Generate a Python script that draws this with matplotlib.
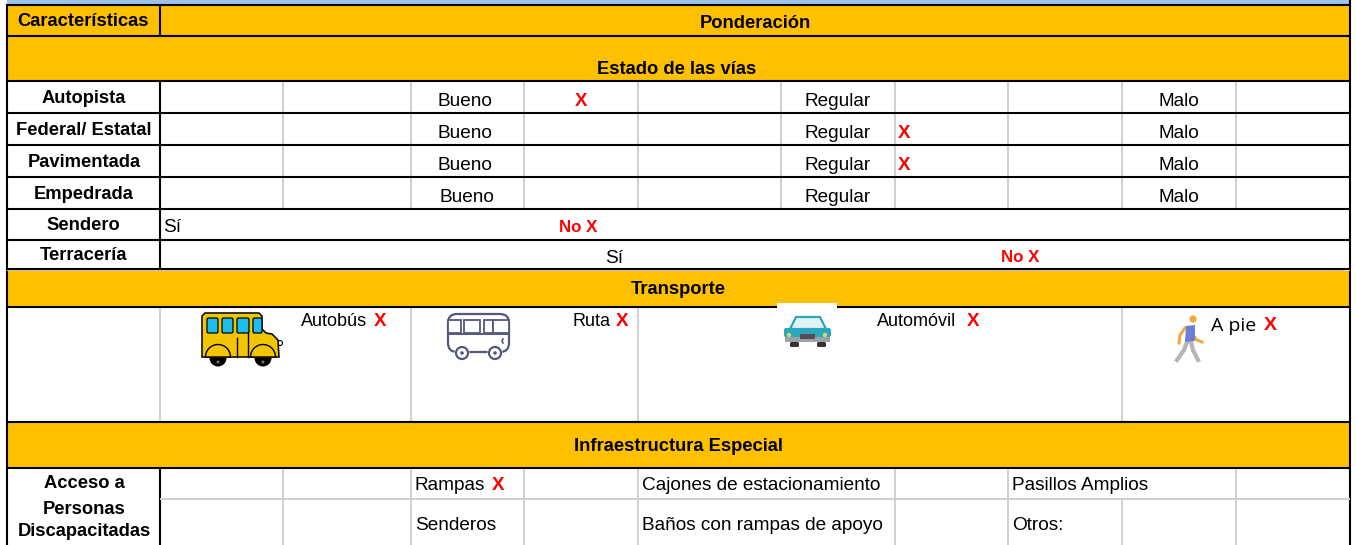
#!/usr/bin/env python
"""Tabla de caracteristicas de las vias, transporte e infraestructura."""

import matplotlib
matplotlib.use("Agg")
import matplotlib.pyplot as plt
from matplotlib.patches import Rectangle, FancyBboxPatch, Circle, Wedge, Polygon

plt.rcParams['font.family'] = ['Liberation Sans', 'DejaVu Sans']

ORANGE = '#FFC000'
GRID = '#D0D0D0'
RED = '#FF0000'
BOLD_SIZE = 13.2
TEXT_SIZE = 13.7
MARK_SIZE = 13.5
NO_SIZE = 12.2

via_rows = ['Autopista', 'Federal/ Estatal', 'Pavimentada', 'Empedrada']
via_marks = ['Bueno', 'Regular', 'Regular', None]
section_titles = ['Ponderación', 'Estado de las vías', 'Transporte', 'Infraestructura Especial']
acceso_lines = ['Acceso a', 'Personas', 'Discapacitadas']
transport_labels = ['Autobús', 'Ruta', 'Automóvil', 'A pie']
infra_top = ['Rampas', 'Cajones de estacionamiento', 'Pasillos Amplios']
infra_bottom = ['Senderos', 'Baños con rampas de apoyo', 'Otros:']

# column edges and row lines, in pixels of the figure
LEFT, RIGHT = 7, 1350
COLS = [160, 283, 411, 524, 638, 781, 895, 1008, 1122, 1236]
VIA_Y = [81, 113, 145, 177, 209]

fig = plt.figure(figsize=(13.56, 5.45), dpi=100)
ax = fig.add_axes([0, 0, 1, 1])
ax.set_xlim(0, 1356)
ax.set_ylim(545, 0)
ax.axis('off')


def band(y0, y1, color=ORANGE, x0=LEFT, x1=RIGHT):
    ax.add_patch(Rectangle((x0, y0), x1 - x0, y1 - y0, fc=color, ec='none', zorder=1))


def hline(y, color='black', lw=1.5, x0=LEFT, x1=RIGHT):
    ax.plot([x0, x1], [y, y], color=color, lw=lw, solid_capstyle='butt', zorder=3)


def vline(x, y0, y1, color=GRID, lw=1.4):
    ax.plot([x, x], [y0, y1], color=color, lw=lw, solid_capstyle='butt', zorder=2)


def label(x, y, s, bold=False, color='black', ha='center', size=None, **kw):
    if size is None:
        size = BOLD_SIZE if bold else TEXT_SIZE
    ax.text(x, y + 1, s, ha=ha, va='center', color=color, fontsize=size,
            fontweight='bold' if bold else 'normal', zorder=6, **kw)


def school_bus():
    yellow = '#F2C500'
    ax.add_patch(Polygon([(202, 316), (205, 313), (259, 313), (262, 316), (262, 329), (266, 333),
                          (272, 334), (278, 340), (279, 357), (202, 357)],
                         fc=yellow, ec='black', lw=1.1, zorder=4))
    for x0, x1 in [(207, 218), (222, 233), (237, 249), (253, 262)]:
        ax.add_patch(FancyBboxPatch((x0, 318), x1 - x0, 15, boxstyle='round,pad=0,rounding_size=1.5',
                                    fc='#1FBDEE', ec='black', lw=0.9, zorder=5))
    ax.plot([237, 237], [338, 357], color='black', lw=1, zorder=5)
    ax.plot([248, 248], [333, 357], color='black', lw=1, zorder=5)
    ax.add_patch(Circle((280, 343), 2.5, fc='white', ec='black', lw=0.8, zorder=3.5))
    for x in [218, 263]:
        # y axis runs downwards, so 180-360 is the upper half on screen
        ax.add_patch(Wedge((x, 357), 12.5, 180, 360, fc=yellow, ec='black', lw=1, zorder=5))
        ax.add_patch(Wedge((x, 358), 8.5, 0, 180, fc='black', ec='none', zorder=3.6))
        ax.add_patch(Circle((x, 362), 1.5, fc='#777777', ec='none', zorder=5.5))


def minibus():
    c = '#55587A'
    ax.add_patch(FancyBboxPatch((448, 314), 61, 38, boxstyle='round,pad=0,rounding_size=9',
                                fc='white', ec=c, lw=1.6, zorder=4))
    ax.plot([448, 509], [334, 334], color=c, lw=1.4, zorder=5)
    for x0, x1 in [(448, 461), (464, 480), (484, 493), (493, 509)]:
        ax.add_patch(Rectangle((x0, 320), x1 - x0, 13, fc='white', ec=c, lw=1.3, zorder=5))
    ax.plot([503, 502, 503], [339, 341, 343], color=c, lw=1.2, zorder=5)
    for x in [462, 495]:
        ax.add_patch(Circle((x, 353), 7.5, fc='white', ec='none', zorder=5.5))
        ax.add_patch(Circle((x, 353), 6, fc='white', ec=c, lw=1.6, zorder=6))
        ax.add_patch(Circle((x, 353), 1.8, fc=c, ec='none', zorder=7))


def car():
    teal = '#2BA6BC'
    ax.add_patch(Rectangle((777, 303), 60, 55, fc='white', ec='none', zorder=4))
    ax.add_patch(Polygon([(790, 329), (796, 317), (820, 317), (826, 329)],
                         fc='#E3F4F7', ec=teal, lw=1.6, zorder=5))
    ax.add_patch(FancyBboxPatch((784, 328), 47, 9, boxstyle='round,pad=0,rounding_size=2',
                                fc=teal, ec='none', zorder=5))
    ax.add_patch(Rectangle((785, 337), 45, 5, fc='#9AA5A0', ec='none', zorder=5))
    ax.add_patch(Rectangle((800, 334), 15, 4.5, fc='#5A4A55', ec='none', zorder=6))
    for x in [789, 825]:
        ax.add_patch(Circle((x, 335), 2.2, fc='#D8D27A', ec='none', zorder=6))
    for x in [790, 817]:
        ax.add_patch(FancyBboxPatch((x, 342), 9, 5, boxstyle='round,pad=0,rounding_size=1.5',
                                    fc='#3A2E38', ec='none', zorder=5))


def walker():
    ax.add_patch(Circle((1193, 319), 3.6, fc='#F5A93B', ec='none', zorder=5))
    ax.plot([1185, 1180, 1179], [328, 335, 343], color='#F5A93B', lw=2.2, zorder=4)
    ax.plot([1193, 1197, 1202], [335, 340, 342], color='#F5A93B', lw=2.2, zorder=4)
    ax.add_patch(Polygon([(1186, 326), (1195, 325), (1195, 341), (1185, 342)],
                         fc='#6D7FD4', ec='none', zorder=5))
    ax.plot([1187, 1184, 1177], [342, 350, 360], color='#B5B5B5', lw=3, zorder=4)
    ax.plot([1191, 1193, 1198], [342, 350, 360], color='#B5B5B5', lw=3, zorder=4)


# fondo
band(0, 4, color='#9DC3E6')
band(5, 81)
band(270, 307)
band(422, 468)

# gray cell lines
for x in COLS[1:]:
    vline(x, 81, 209)
for x in [283, 411, 524, 638, 895, 1008, 1236]:
    vline(x, 468, 545)
vline(1122, 499, 545)
vline(160, 307, 422)
vline(411, 307, 422)
vline(638, 307, 422)
vline(1122, 307, 422)
hline(499, color=GRID, lw=1.5, x0=160, x1=RIGHT)
hline(270, color=GRID, lw=1.5, x0=LEFT, x1=RIGHT)

# black lines
for y in [4.5, 36, 81, 113, 145, 177, 209, 240, 307, 422, 468]:
    hline(y)
hline(269)
vline(LEFT, 4, 545, color='black', lw=1.5)
vline(RIGHT, 0, 545, color='black', lw=1.5)
vline(160, 5, 36, color='black', lw=1.5)
vline(160, 81, 269, color='black', lw=1.5)
vline(160, 468, 545, color='black', lw=1.5)

# encabezados
label(83, 20.5, 'Características', bold=True)
label(755, 23, section_titles[0], bold=True)
label(677, 69, section_titles[1], bold=True)
label(678, 288.5, section_titles[2], bold=True)
label(678, 445.5, section_titles[3], bold=True)

# estado de las vias
for i, name in enumerate(via_rows):
    yc = VIA_Y[i] + 16
    label(84, yc + 0.5, name, bold=True)
    label(467 if i == 3 else 465, yc + 4, 'Bueno')
    label(838, yc + 4, 'Regular')
    label(1179, yc + 4, 'Malo')
for i, mark in enumerate(via_marks):
    if mark == 'Bueno':
        label(581, VIA_Y[i] + 19.5, 'X', bold=True, color=RED, size=MARK_SIZE)
    elif mark == 'Regular':
        label(904, VIA_Y[i] + 19.5, 'X', bold=True, color=RED, size=MARK_SIZE)

label(83, 225, 'Sendero', bold=True)
label(163, 226, 'Sí', ha='left')
label(578, 226, 'No X', bold=True, color=RED, size=NO_SIZE)
label(83, 255, 'Terracería', bold=True)
label(614, 257.5, 'Sí')
label(1020, 257, 'No X', bold=True, color=RED, size=NO_SIZE)

# transporte
school_bus()
minibus()
car()
walker()
label(301, 320, transport_labels[0], ha='left', size=13)
label(374, 320, 'X', ha='left', bold=True, color=RED, size=MARK_SIZE)
label(572, 320, transport_labels[1], ha='left', size=13)
label(616, 320, 'X', ha='left', bold=True, color=RED, size=MARK_SIZE)
label(877, 320, transport_labels[2], ha='left', size=13)
label(967, 320, 'X', ha='left', bold=True, color=RED, size=MARK_SIZE)
ax.text(1211, 326, transport_labels[3], ha='left', va='center', fontsize=14,
        family=['Open Sans', 'DejaVu Sans'], zorder=6)
label(1264, 325, 'X', ha='left', bold=True, color=RED, size=14)

# infraestructura
for y, s in zip([483, 508, 531], acceso_lines):
    label(84, y, s, bold=True)
for x, s in zip([415, 642, 1012], infra_top):
    label(x, 484, s, ha='left')
label(492, 484, 'X', ha='left', bold=True, color=RED, size=MARK_SIZE)
for x, s in zip([415, 642, 1012], infra_bottom):
    label(x, 525, s, ha='left')

plt.savefig('out.png', dpi=100)
plt.close()
